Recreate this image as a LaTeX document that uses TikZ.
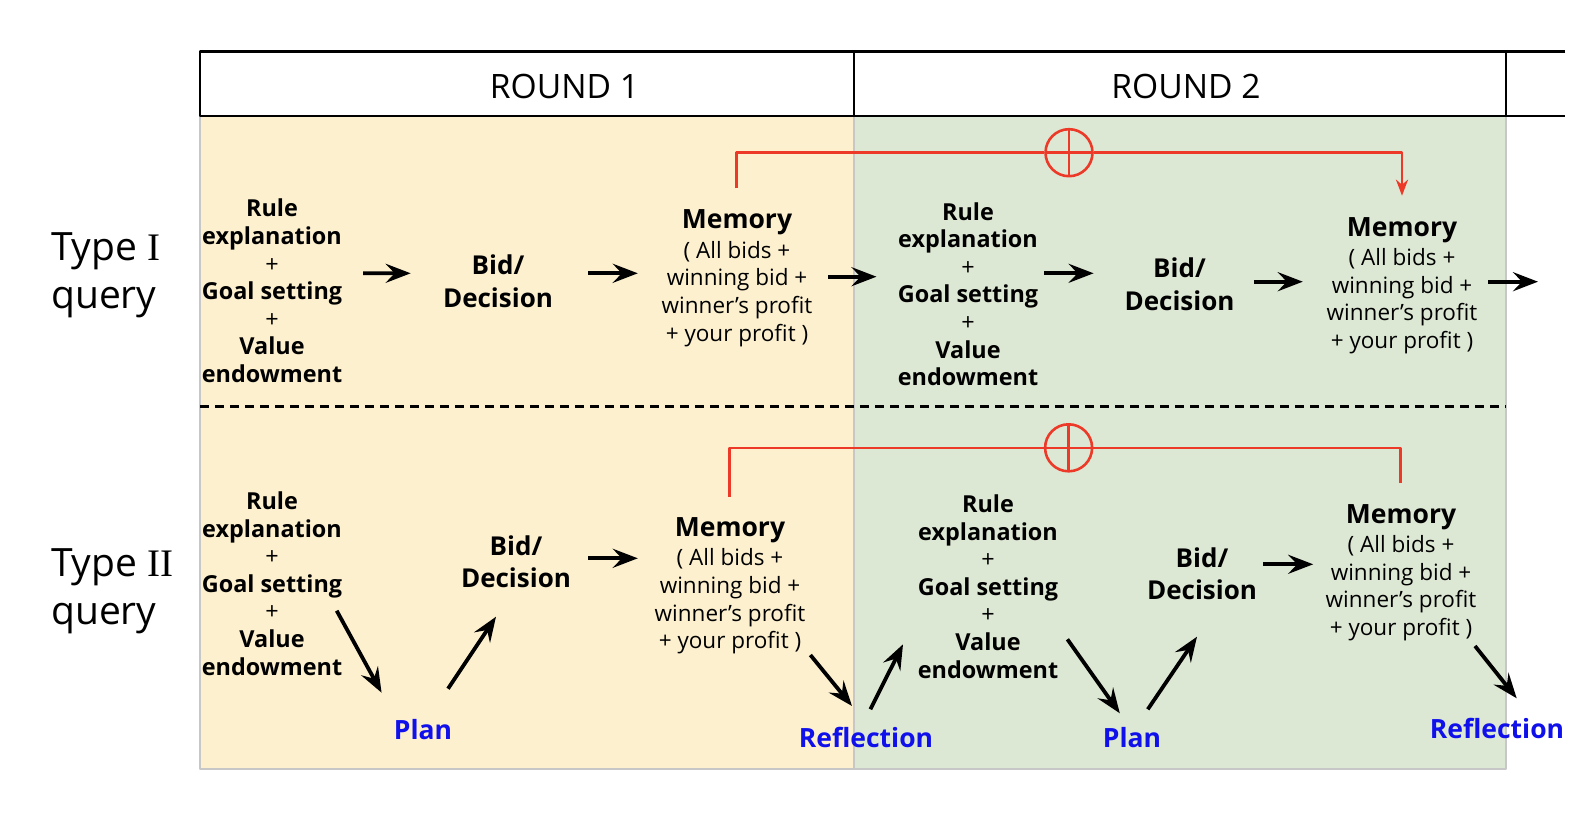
\documentclass[tikz,border=0pt]{standalone}
\usepackage{fontspec}
\setmainfont{Open Sans}
\newfontfamily\romanfont{Liberation Serif}
\usetikzlibrary{arrows.meta}
\definecolor{roundone}{RGB}{252,240,207}
\definecolor{roundtwo}{RGB}{221,232,212}
\definecolor{sumred}{RGB}{236,57,40}
\definecolor{stepblue}{RGB}{16,16,235}
\begin{document}
\begin{tikzpicture}[x=1pt,y=-1pt,line join=round,>={Stealth[length=25pt,width=19pt,inset=9pt]}]
	\tikzset{every node/.style={inner sep=0pt}}
	\tikzset{flow/.style={->,line width=3.8pt},
		link/.style={draw=sumred,line width=2.6pt},
		sum/.style={circle,draw=sumred,line width=2.6pt,minimum size=47pt,
			path picture={\draw[sumred,line width=2.6pt] (path picture bounding box.north)--(path picture bounding box.south) (path picture bounding box.west)--(path picture bounding box.east);}},
		cond/.style={anchor=north,align=center,font=\fontsize{23.4}{27.6}\selectfont\bfseries},
		bid/.style={anchor=north,align=center,font=\fontsize{26}{32.4}\selectfont\bfseries},
		memtitle/.style={anchor=base,font=\fontsize{26.5}{30}\selectfont\bfseries},
		memnote/.style={anchor=north,align=center,font=\fontsize{22.5}{27.7}\selectfont},
		phase/.style={anchor=base,text=stepblue,font=\fontsize{26.5}{30}\selectfont\bfseries},
		rnd/.style={anchor=base,font=\fontsize{33.6}{40}\selectfont},
		kind/.style={anchor=north west,align=left,font=\fontsize{39}{48.3}\selectfont}}
	\useasboundingbox (0,0) rectangle (1588,816);
	\fill[roundone] (200,116) rectangle (854,769);
	\fill[roundtwo] (854,116) rectangle (1506,769);
	\draw[black!22,line width=1.5pt] (200,116) rectangle (854,769) (854,116) rectangle (1506,769);
	\draw[line width=2.8pt] (1565,51.7)--(200,51.7)--(200,116)--(1565,116);
	\foreach \x in {854,1506}
	\draw[line width=2.8pt] (\x,51.7)--(\x,116);
	\draw[line width=2.6pt,dash pattern=on 9pt off 6pt] (200,406.7)--(1506,406.7);
	\node[rnd] (round1) at (564.5,98.3) {ROUND 1};
	\node[rnd] (round2) at (1186,98.3) {ROUND 2};
	\node[kind] (type1) at (51,232) {Type {\romanfont I}\\query};
	\node[kind] (type2) at (51,548.3) {Type {\romanfont II}\\query};
	\foreach \n/\x/\y in {1/272/198.9,2/968/202.2,3/272/491.5,4/988/494.5}
	\node[cond] (cond\n) at (\x,\y) {Rule\\explanation\\{\mdseries +}\\Goal setting\\{\mdseries +}\\Value\\endowment};
	\foreach \n/\x/\y in {1/498/254.8,2/1179.5/257.8,3/516/535.5,4/1202/547.2}
	\node[bid] (bid\n) at (\x,\y) {Bid/\\Decision};
	\foreach \n/\x/\y/\z in {1/737/228.3/240.8,2/1402/236/248.3,3/730/536.7/548.3,4/1401/523.3/535}
	{
		\node[memtitle] (mt\n) at (\x,\y) {Memory};
		\node[memnote] (mb\n) at (\x,\z) {( All bids +\\winning bid +\\winner’s profit\\+ your profit )};
	}
	\node[phase] (plan1) at (423,739.3) {Plan};
	\node[phase] (refl1) at (866,747.3) {Reflection};
	\node[phase] (plan2) at (1132,747.3) {Plan};
	\node[phase] (refl2) at (1497,738.3) {Reflection};
	\foreach \src/\sx/\sy/\dst/\dx/\dy in {
		cond1.north/91/74.4/bid1.north/-87.3/18.5,
		bid1.north/90/18.5/mb1.north/-99.2/32.5,
		mb1.north/91/35.9/cond2.north/-91.5/74.5,
		cond2.north/76/71.1/bid2.north/-85.9/15.5,
		bid2.north/74.5/23.9/mb2.north/-99.2/33.4,
		cond3.north/64.7/119.2/plan1.base/-41.4/-46.6,
		plan1.base/25/-50.6/bid3.north/-20/81.2,
		bid3.north/72/22.8/mb3.north/-92.2/10,
		mb3.north/80.4/106.7/refl1.base/-14/-41.3,
		refl1.base/4.4/-38/cond4.north/-85/149.8,
		cond4.north/79.4/144.8/plan2.base/-12.2/-34,
		plan2.base/15.8/-38/bid4.north/-5/89.5,
		bid4.north/61.3/17.1/mb4.north/-87.8/29.3,
		mb4.north/74/111/refl2.base/19.7/-40}
	\draw[flow] ([shift={(\sx,\sy)}]\src)--([shift={(\dx,\dy)}]\dst);
	\coordinate (next1) at (1538,281.7);
	\draw[flow] ([shift={(86,33.4)}]mb2.north)--(next1);
	\node[sum] (sum1) at (1069,152.7) {};
	\node[sum] (sum2) at (1068.6,447.8) {};
	\draw[link] ([shift={(-0.8,-40)}]mt1.base) |- (sum1);
	\draw[link,-{Stealth[length=16pt,width=12pt,inset=5pt]}] (sum1) -| ([shift={(0,-40.3)}]mt2.base);
	\draw[link] ([shift={(-0.4,-40)}]mt3.base) |- (sum2);
	\draw[link] (sum2) -| ([shift={(-0.3,-40)}]mt4.base);
\end{tikzpicture}
\end{document}
